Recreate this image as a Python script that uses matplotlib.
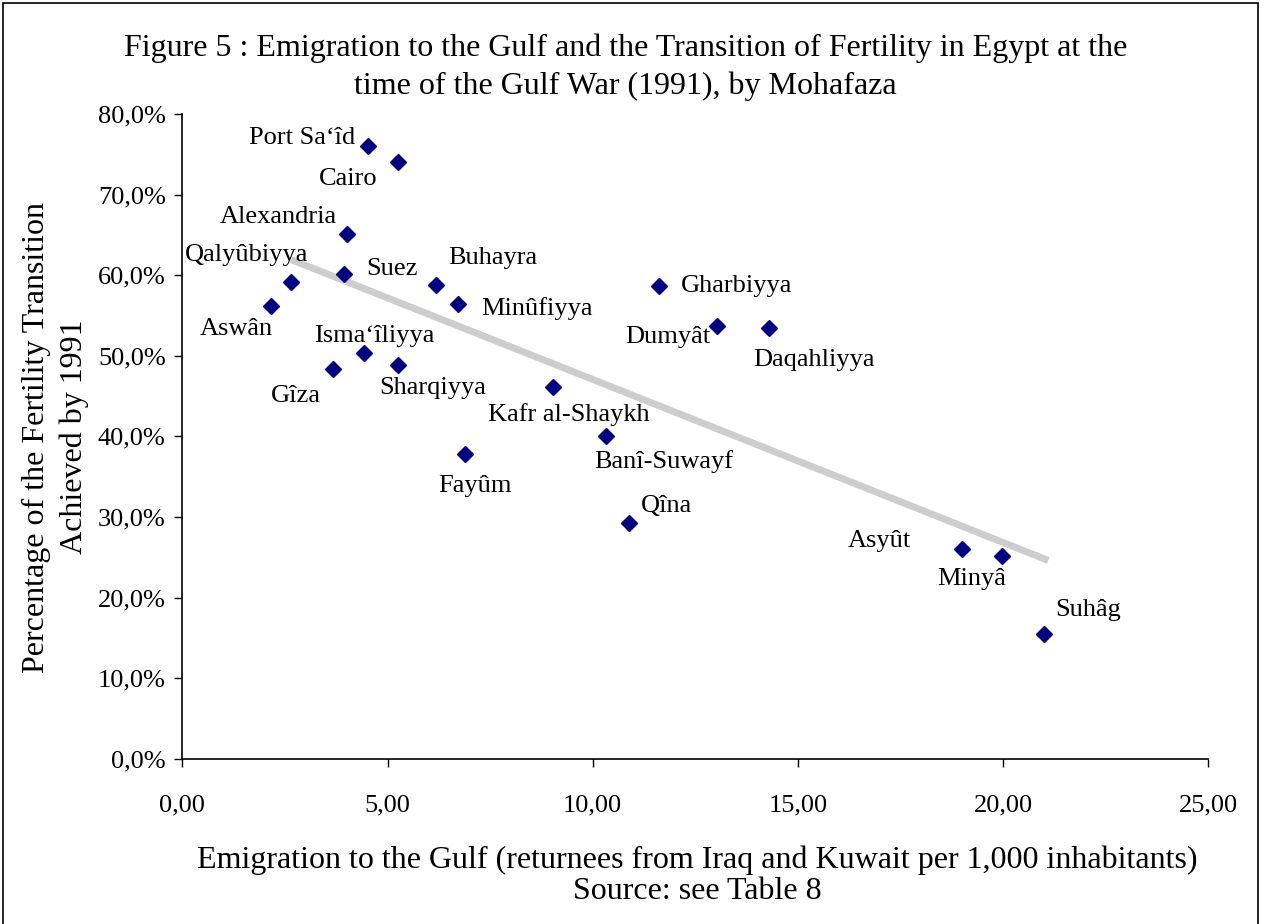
import numpy as np
import matplotlib
matplotlib.use("Agg")
import matplotlib.pyplot as plt
from matplotlib.patches import Rectangle
from matplotlib.ticker import FuncFormatter

# ── data ─────────────────────────────────────────────────────
mohafaza = ["Port Sa\u2018îd", "Cairo", "Alexandria", "Suez", "Qalyûbiyya",
            "Aswân", "Buhayra", "Minûfiyya", "Isma\u2018îliyya", "Gîza",
            "Sharqiyya", "Fayûm", "Kafr al-Shaykh", "Gharbiyya", "Dumyât",
            "Daqahliyya", "Banî-Suwayf", "Qîna", "Asyût", "Minyâ", "Suhâg"]
emigration = [4.53, 5.26, 4.01, 3.95, 2.65, 2.17, 6.18, 6.71, 4.43, 3.68,
              5.25, 6.89, 9.04, 11.61, 13.03, 14.30, 10.32, 10.88, 19.00,
              19.98, 21.00]
fertility = [76.0, 74.0, 65.1, 60.2, 59.2, 56.2, 58.8, 56.4, 50.4, 48.3,
             48.8, 37.8, 46.1, 58.7, 53.7, 53.4, 40.1, 29.3, 26.0, 25.2,
             15.5]

# label placement: (dx, dy) in points, horizontal alignment
label_pos = {
    "Port Sa\u2018îd": (-9, 6, "right"),
    "Cairo": (-15, -12, "right"),
    "Alexandria": (-7, 12, "right"),
    "Suez": (16, 3, "left"),
    "Qalyûbiyya": (-32, 19, "center"),
    "Aswân": (1, -17, "right"),
    "Buhayra": (9, 19, "left"),
    "Minûfiyya": (17, -3, "left"),
    "Isma\u2018îliyya": (7, 12, "center"),
    "Gîza": (-9, -19, "right"),
    "Sharqiyya": (25, -16, "center"),
    "Fayûm": (7, -23, "center"),
    "Kafr al-Shaykh": (11, -20, "center"),
    "Gharbiyya": (16, 0, "left"),
    "Dumyât": (-5, -8, "right"),
    "Daqahliyya": (32, -23, "center"),
    "Banî-Suwayf": (42, -19, "center"),
    "Qîna": (9, 12, "left"),
    "Asyût": (-37, 6, "right"),
    "Minyâ": (-22, -17, "center"),
    "Suhâg": (8, 17, "left"),
}

plt.rcParams["font.family"] = ["Liberation Serif", "DejaVu Serif"]

fig = plt.figure(figsize=(12.61, 9.24), dpi=100)
ax = fig.add_axes([0.1446, 0.1789, 0.8136, 0.6977])

# trend line (least squares over the points)
slope, intercept = np.polyfit(emigration, fertility, 1)
tx = np.array([2.65, 21.1])
ax.plot(tx, slope * tx + intercept, color="#cdcdcd", linewidth=5,
        solid_capstyle="butt", zorder=2)

ax.plot(emigration, fertility, linestyle="none", marker="D",
        markersize=8.5, color="#000080", zorder=3)

for name, x, y in zip(mohafaza, emigration, fertility):
    dx, dy, ha = label_pos[name]
    ax.annotate(name, (x, y), xytext=(dx, dy), textcoords="offset points",
                ha=ha, va="center", fontsize=19, color="black")

ax.set_xlim(0, 25)
ax.set_ylim(0, 80)
ax.set_xticks(np.arange(0, 26, 5))
ax.set_yticks(np.arange(0, 81, 10))
ax.xaxis.set_major_formatter(FuncFormatter(lambda v, p: f"{v:.2f}".replace(".", ",")))
ax.yaxis.set_major_formatter(FuncFormatter(lambda v, p: f"{v:.1f}%".replace(".", ",")))
ax.tick_params(direction="out", length=6, width=1, labelsize=19, pad=6)
ax.tick_params(axis="x", pad=20)
for s in ["top", "right"]:
    ax.spines[s].set_visible(False)
for s in ["left", "bottom"]:
    ax.spines[s].set_linewidth(1.2)

fig.text(0.496, 0.948, "Figure 5 : Emigration to the Gulf and the Transition of Fertility in Egypt at the",
         ha="center", va="center", fontsize=23)
fig.text(0.496, 0.907, "time of the Gulf War (1991), by Mohafaza",
         ha="center", va="center", fontsize=23)
fig.text(0.553, 0.069, "Emigration to the Gulf (returnees from Iraq and Kuwait per 1,000 inhabitants)",
         ha="center", va="center", fontsize=23)
fig.text(0.553, 0.035, "Source: see Table 8", ha="center", va="center", fontsize=23)
fig.text(0.044, 0.527, "Percentage of the Fertility Transition\nAchieved by 1991",
         ha="center", va="center", rotation=90, fontsize=23, linespacing=1.4)

fig.patches.append(Rectangle((0.002, -0.01), 0.996, 1.007, transform=fig.transFigure,
                             fill=False, edgecolor="black", linewidth=1.2))

fig.savefig("out.png", dpi=100)
